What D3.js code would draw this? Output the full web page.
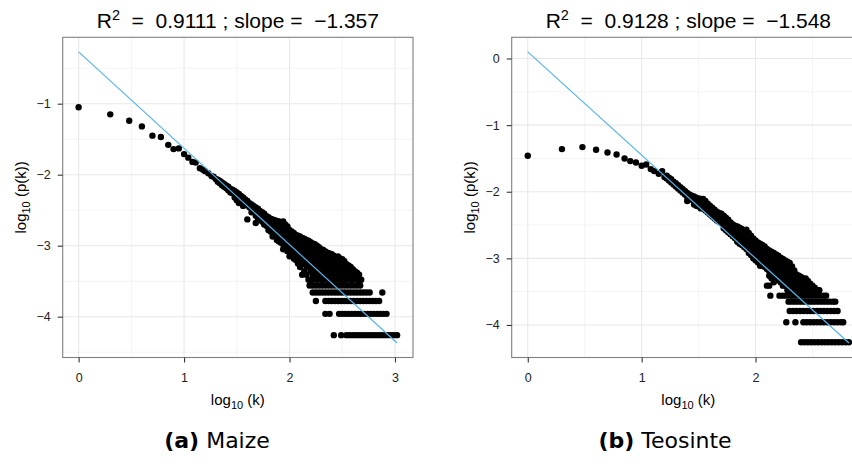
<!DOCTYPE html>
<html>
<head>
<meta charset="utf-8">
<script src="https://cdn.jsdelivr.net/npm/d3@7"></script>
<style>
body { margin: 0; background: #fff; }
svg { display: block; font-family: "Liberation Sans", Arial, sans-serif; }
</style>
</head>
<body>
<div id="chart"></div>
<script>
// log10(k), log10(p(k))
const maizeEarly = [[0.00,-1.05],[0.30,-1.15],[0.48,-1.24],[0.60,-1.32],[0.70,-1.45],[0.78,-1.47],[0.85,-1.58],[0.90,-1.64],[0.95,-1.63],[1.00,-1.71],[1.04,-1.76],[1.08,-1.82],[1.11,-1.83],[1.15,-1.91],[1.18,-1.93],[1.20,-1.95],[1.23,-1.98],[1.26,-2.02],[1.28,-2.03],[1.30,-2.06]];

// dense part: [log10(k), [log10(p) values at that k]]
const maizeCols = [
  [1.32,[-2.07,-2.10]],[1.34,[-2.09,-2.12]],[1.36,[-2.11,-2.15]],[1.38,[-2.13,-2.17]],[1.40,[-2.15,-2.19]],
  [1.42,[-2.17,-2.22]],[1.44,[-2.20,-2.25]],[1.46,[-2.21,-2.26]],[1.48,[-2.23,-2.28,-2.32]],[1.50,[-2.25,-2.30,-2.36]],
  [1.52,[-2.27,-2.33,-2.40]],[1.54,[-2.30,-2.35]],[1.56,[-2.32,-2.38,-2.44]],[1.58,[-2.35,-2.41]],[1.60,[-2.37,-2.43,-2.63]],
  [1.62,[-2.40,-2.46]],[1.64,[-2.42,-2.48,-2.53]],[1.66,[-2.44,-2.50]],[1.68,[-2.46,-2.52,-2.58,-2.68]],[1.70,[-2.48,-2.55,-2.61]],
  [1.72,[-2.51,-2.57,-2.63]],[1.74,[-2.53,-2.60,-2.66]],[1.76,[-2.55,-2.62,-2.70]],[1.78,[-2.58,-2.65,-2.72]],
  [1.80,[-2.60,-2.66,-2.72,-2.78]],[1.82,[-2.62,-2.68,-2.74,-2.80]],[1.84,[-2.63,-2.69,-2.75,-2.82,-2.87]],[1.86,[-2.64,-2.70,-2.76,-2.84]],
  [1.88,[-2.65,-2.71,-2.78,-2.86,-2.92]],[1.90,[-2.66,-2.72,-2.79,-2.86,-2.94]],[1.92,[-2.67,-2.74,-2.81,-2.88,-2.96]],
  [1.94,[-2.66,-2.75,-2.82,-2.90,-2.98,-3.05]],[1.96,[-2.70,-2.77,-2.84,-2.92,-3.00]],[1.98,[-2.73,-2.79,-2.86,-2.93,-3.02,-3.08]],
  [2.00,[-2.78,-2.84,-2.90,-2.97,-3.04,-3.15]],[2.02,[-2.80,-2.86,-2.92,-2.99,-3.06,-3.12]],[2.04,[-2.82,-2.88,-2.94,-3.01,-3.08,-3.18]],
  [2.06,[-2.85,-2.91,-2.97,-3.03,-3.10,-3.20]],[2.08,[-2.86,-2.92,-2.98,-3.05,-3.12,-3.25]],[2.10,[-2.87,-2.93,-3.00,-3.07,-3.14,-3.21,-3.30]],
  [2.12,[-2.89,-2.95,-3.02,-3.09,-3.16,-3.23,-3.41]],[2.14,[-2.90,-2.97,-3.04,-3.11,-3.18,-3.26,-3.36]],[2.16,[-2.92,-2.99,-3.06,-3.13,-3.20,-3.28,-3.41]],
  [2.18,[-2.93,-3.00,-3.07,-3.14,-3.22,-3.30,-3.48]],[2.20,[-2.95,-3.02,-3.09,-3.16,-3.23,-3.30,-3.36,-3.48]],[2.22,[-2.97,-3.04,-3.11,-3.18,-3.25,-3.32,-3.41,-3.48]],
  [2.24,[-2.98,-3.05,-3.12,-3.19,-3.26,-3.34,-3.41]],[2.26,[-3.00,-3.07,-3.14,-3.21,-3.28,-3.36,-3.48]],[2.28,[-3.02,-3.09,-3.16,-3.23,-3.30,-3.36,-3.41]],
  [2.30,[-3.05,-3.11,-3.18,-3.26,-3.30,-3.36,-3.48]],[2.32,[-3.06,-3.12,-3.19,-3.26,-3.36,-3.41,-3.48]],[2.34,[-3.08,-3.15,-3.22,-3.30,-3.36,-3.41]],
  [2.36,[-3.10,-3.16,-3.22,-3.30,-3.36,-3.48]],[2.38,[-3.11,-3.18,-3.26,-3.30,-3.41,-3.48]],[2.40,[-3.12,-3.19,-3.26,-3.36,-3.41]],
  [2.42,[-3.14,-3.22,-3.30,-3.36,-3.48]],[2.44,[-3.17,-3.22,-3.30,-3.41,-3.48]],[2.46,[-3.15,-3.22,-3.26,-3.36,-3.41]],
  [2.48,[-3.18,-3.26,-3.30,-3.36,-3.48]],[2.50,[-3.19,-3.26,-3.36,-3.41,-3.48]],[2.52,[-3.22,-3.30,-3.36,-3.48]],
  [2.54,[-3.26,-3.30,-3.41,-3.48]],[2.56,[-3.28,-3.36,-3.41]],[2.58,[-3.30,-3.36,-3.48]],[2.60,[-3.33,-3.41,-3.48]],
  [2.62,[-3.36,-3.41]],[2.64,[-3.38,-3.48]],[2.66,[-3.41,-3.48]],[2.68,[-3.48]]
];

// tail: counts of 5,4,3,2,1 nodes give flat rows -> [log10(p), [log10(k) values]]
const maizeBands = [
  [-3.56,[2.19,2.22,2.25,2.28,2.31,2.34,2.37,2.40,2.43,2.46,2.49,2.52,2.55,2.58,2.61,2.64,2.67]],
  [-3.66,[2.22,2.25,2.28,2.31,2.34,2.37,2.40,2.43,2.46,2.49,2.52,2.55,2.58,2.61,2.64,2.67,2.70,2.73,2.76,2.88]],
  [-3.78,[2.25,2.34,2.37,2.40,2.43,2.46,2.49,2.52,2.55,2.58,2.61,2.64,2.67,2.70,2.73,2.76,2.79,2.82,2.85]],
  [-3.96,[2.34,2.38,2.47,2.50,2.53,2.56,2.59,2.62,2.65,2.68,2.71,2.74,2.77,2.80,2.83,2.86,2.89,2.92]],
  [-4.26,[2.42,2.49,2.54,2.57,2.60,2.63,2.66,2.69,2.72,2.75,2.78,2.81,2.84,2.87,2.90,2.93,2.96,2.99,3.02]]
];

const maizeFitLine = [[0, -0.27], [3.02, -4.37]];
const maizeXTicks = [0, 1, 2, 3];
const maizeYTicks = [-1, -2, -3, -4];
const maizeR2 = "0.9111";
const maizeSlope = "\u22121.357";

const teoEarly = [[0.00,-1.46],[0.30,-1.36],[0.48,-1.33],[0.60,-1.37],[0.70,-1.41],[0.78,-1.44],[0.85,-1.50],[0.90,-1.54],[0.95,-1.56],[1.00,-1.61],[1.04,-1.59],[1.08,-1.66],[1.11,-1.69],[1.15,-1.73],[1.18,-1.69],[1.20,-1.78]];

const teoCols = [
  [1.22,[-1.76,-1.80]],[1.24,[-1.79,-1.83]],[1.26,[-1.81,-1.86]],[1.28,[-1.85,-1.89]],[1.30,[-1.87,-1.92]],
  [1.32,[-1.90,-1.95]],[1.34,[-1.93,-1.98]],[1.36,[-1.96,-2.01]],[1.38,[-1.99,-2.04]],[1.40,[-2.02,-2.08,-2.14]],
  [1.42,[-2.04,-2.10]],[1.44,[-2.06,-2.12]],[1.46,[-2.07,-2.13,-2.19]],[1.48,[-2.09,-2.15,-2.21]],[1.50,[-2.10,-2.16,-2.22]],
  [1.52,[-2.11,-2.18,-2.25]],[1.54,[-2.11,-2.18,-2.25]],[1.56,[-2.14,-2.21,-2.28]],[1.58,[-2.18,-2.24,-2.31]],[1.60,[-2.21,-2.27,-2.34]],
  [1.62,[-2.24,-2.30,-2.37]],[1.64,[-2.27,-2.33,-2.40]],[1.66,[-2.30,-2.36,-2.43]],[1.68,[-2.32,-2.38,-2.45]],[1.70,[-2.33,-2.40,-2.47]],
  [1.72,[-2.36,-2.42,-2.49,-2.55]],[1.74,[-2.39,-2.45,-2.52,-2.58]],[1.76,[-2.42,-2.48,-2.55,-2.61]],[1.78,[-2.46,-2.52,-2.58,-2.64]],
  [1.80,[-2.49,-2.55,-2.61,-2.67]],[1.82,[-2.51,-2.57,-2.63,-2.70]],[1.84,[-2.52,-2.58,-2.64,-2.70,-2.75]],[1.86,[-2.54,-2.60,-2.66,-2.72,-2.78]],
  [1.88,[-2.56,-2.62,-2.68,-2.74,-2.80]],[1.90,[-2.58,-2.64,-2.70,-2.76,-2.83]],[1.92,[-2.57,-2.63,-2.69,-2.75,-2.81,-2.86]],
  [1.94,[-2.62,-2.68,-2.74,-2.80,-2.86,-2.92]],[1.96,[-2.66,-2.72,-2.78,-2.84,-2.90,-2.95]],[1.98,[-2.70,-2.76,-2.82,-2.88,-2.94,-3.00]],
  [2.00,[-2.73,-2.79,-2.85,-2.91,-2.97,-3.03]],[2.02,[-2.76,-2.82,-2.88,-2.94,-3.00,-3.06]],[2.04,[-2.78,-2.84,-2.90,-2.96,-3.02,-3.11]],
  [2.06,[-2.80,-2.86,-2.92,-2.98,-3.04,-3.11]],[2.08,[-2.82,-2.88,-2.94,-3.00,-3.06,-3.13]],[2.10,[-2.86,-2.92,-2.98,-3.04,-3.10,-3.16,-3.41]],
  [2.12,[-2.88,-2.94,-3.00,-3.06,-3.12,-3.19,-3.26,-3.41]],[2.14,[-2.90,-2.96,-3.02,-3.08,-3.14,-3.21,-3.30]],
  [2.16,[-2.92,-2.98,-3.04,-3.10,-3.16,-3.23,-3.30,-3.36]],[2.18,[-2.94,-3.00,-3.06,-3.12,-3.18,-3.25,-3.30]],
  [2.20,[-2.96,-3.02,-3.08,-3.14,-3.20,-3.26,-3.33]],[2.22,[-2.99,-3.05,-3.11,-3.17,-3.23,-3.30,-3.36]],
  [2.24,[-3.01,-3.07,-3.13,-3.19,-3.25,-3.30,-3.36,-3.41]],[2.26,[-3.03,-3.09,-3.15,-3.21,-3.27,-3.36,-3.41]],
  [2.28,[-3.05,-3.11,-3.18,-3.24,-3.30,-3.36,-3.48]],[2.30,[-3.07,-3.13,-3.20,-3.26,-3.30,-3.36,-3.41,-3.48]],
  [2.32,[-3.12,-3.18,-3.24,-3.30,-3.36,-3.41,-3.48]],[2.34,[-3.18,-3.24,-3.30,-3.36,-3.41,-3.48]],[2.36,[-3.24,-3.30,-3.36,-3.41,-3.48]],
  [2.38,[-3.26,-3.30,-3.36,-3.41,-3.48]],[2.40,[-3.28,-3.36,-3.41,-3.48]],[2.42,[-3.30,-3.36,-3.41,-3.48]],[2.44,[-3.30,-3.36,-3.41,-3.48]],
  [2.46,[-3.34,-3.41,-3.48]],[2.48,[-3.38,-3.41,-3.48]],[2.50,[-3.41,-3.48]],[2.52,[-3.44,-3.48]],[2.54,[-3.48]],[2.56,[-3.48]]
];

const teoBands = [
  [-3.56,[2.13,2.21,2.24,2.27,2.30,2.33,2.36,2.39,2.42,2.45,2.48,2.51,2.54,2.57,2.60,2.62]],
  [-3.65,[2.29,2.32,2.35,2.38,2.41,2.44,2.47,2.50,2.53,2.56,2.59,2.62,2.65,2.68,2.70]],
  [-3.79,[2.30,2.33,2.36,2.39,2.42,2.45,2.48,2.51,2.54,2.57,2.60,2.63,2.66,2.69,2.72]],
  [-3.96,[2.27,2.35,2.42,2.45,2.48,2.51,2.54,2.57,2.60,2.63,2.66,2.69,2.72,2.75,2.77]],
  [-4.26,[2.40,2.43,2.46,2.49,2.52,2.55,2.58,2.61,2.64,2.67,2.70,2.73,2.76,2.79,2.82]]
];

const teoFitLine = [[0, 0.10], [2.82, -4.27]];
const teoXTicks = [0, 1, 2];
const teoYTicks = [0, -1, -2, -3, -4];
const teoR2 = "0.9128";
const teoSlope = "\u22121.548";

const W = 852, H = 464;
const svg = d3.select("#chart").append("svg")
    .attr("width", W)
    .attr("height", H);

svg.append("rect").attr("width", W).attr("height", H).attr("fill", "#fff");

function collectPoints(early, cols, bands) {
    let pts = early.slice();
    cols.forEach(c => c[1].forEach(v => pts.push([c[0], v])));
    bands.forEach(b => b[1].forEach(v => pts.push([v, b[0]])));
    return pts;
}

function drawPanel(p) {
    const pts = collectPoints(p.early, p.cols, p.bands);
    const allX = pts.map(d => d[0]).concat(p.fit.map(d => d[0]));
    const allY = pts.map(d => d[1]).concat(p.fit.map(d => d[1]));
    const xe = d3.extent(allX), ye = d3.extent(allY);
    const px = (xe[1] - xe[0]) * 0.05, py = (ye[1] - ye[0]) * 0.05;

    const x = d3.scaleLinear().domain([xe[0] - px, xe[1] + px]).range([p.left, p.right]);
    const y = d3.scaleLinear().domain([ye[0] - py, ye[1] + py]).range([p.bottom, p.top]);

    const g = svg.append("g");

    // minor grid at half steps
    const xd = x.domain(), yd = y.domain();
    const xMinor = p.xTicks.map(v => v + 0.5).concat([p.xTicks[0] - 0.5]).filter(v => v > xd[0] && v < xd[1]);
    const yMinor = p.yTicks.map(v => v - 0.5).concat([p.yTicks[0] + 0.5]).filter(v => v > yd[0] && v < yd[1]);

    g.selectAll(".xminor").data(xMinor).enter().append("line")
        .attr("x1", d => x(d)).attr("x2", d => x(d))
        .attr("y1", p.top).attr("y2", p.bottom)
        .attr("stroke", "#f4f4f4").attr("stroke-width", 1);
    g.selectAll(".yminor").data(yMinor).enter().append("line")
        .attr("y1", d => y(d)).attr("y2", d => y(d))
        .attr("x1", p.left).attr("x2", p.right)
        .attr("stroke", "#f4f4f4").attr("stroke-width", 1);
    g.selectAll(".xmajor").data(p.xTicks).enter().append("line")
        .attr("x1", d => x(d)).attr("x2", d => x(d))
        .attr("y1", p.top).attr("y2", p.bottom)
        .attr("stroke", "#e8e8e8").attr("stroke-width", 1.1);
    g.selectAll(".ymajor").data(p.yTicks).enter().append("line")
        .attr("y1", d => y(d)).attr("y2", d => y(d))
        .attr("x1", p.left).attr("x2", p.right)
        .attr("stroke", "#e8e8e8").attr("stroke-width", 1.1);

    // points
    g.selectAll(".pt").data(pts).enter().append("circle")
        .attr("cx", d => x(d[0]))
        .attr("cy", d => y(d[1]))
        .attr("r", 3.2)
        .attr("fill", "#000");

    // fitted line
    g.append("path")
        .datum(p.fit)
        .attr("fill", "none")
        .attr("stroke", "#56B4E9")
        .attr("stroke-width", 1.2)
        .attr("d", d3.line().x(d => x(d[0])).y(d => y(d[1])));

    // panel border
    g.append("rect")
        .attr("x", p.left).attr("y", p.top)
        .attr("width", p.right - p.left).attr("height", p.bottom - p.top)
        .attr("fill", "none").attr("stroke", "#7f7f7f").attr("stroke-width", 1.1);

    // axes
    const fmt = d3.format("d");
    const xAxis = g.append("g")
        .attr("transform", "translate(0," + p.bottom + ")")
        .call(d3.axisBottom(x).tickValues(p.xTicks).tickFormat(fmt).tickSize(5).tickPadding(11));
    const yAxis = g.append("g")
        .attr("transform", "translate(" + p.left + ",0)")
        .call(d3.axisLeft(y).tickValues(p.yTicks).tickFormat(fmt).tickSize(5).tickPadding(7));
    [xAxis, yAxis].forEach(a => {
        a.select(".domain").remove();
        a.selectAll("line").attr("stroke", "#333").attr("stroke-width", 1.1);
        a.selectAll("text").attr("fill", "#222")
            .style("font-family", "'Liberation Sans', Arial, sans-serif")
            .style("font-size", "12.5px");
    });

    // title
    const cx = (p.left + p.right) / 2;
    const t = g.append("text")
        .attr("x", cx).attr("y", 28)
        .attr("text-anchor", "middle")
        .style("font-size", "21px")
        .attr("fill", "#000");
    t.append("tspan").text("R");
    t.append("tspan").attr("dy", -8).style("font-size", "14.5px").text("2");
    t.append("tspan").attr("dy", 8).text("\u00a0 =\u00a0 " + p.r2 + " ; slope =\u00a0 " + p.slope);

    // x axis title
    const xt = g.append("text")
        .attr("x", (p.left + p.right) / 2).attr("y", 405)
        .attr("text-anchor", "middle")
        .style("font-size", "15px");
    xt.append("tspan").text("log");
    xt.append("tspan").attr("dy", 4).style("font-size", "11px").text("10");
    xt.append("tspan").attr("dy", -4).text(" (k)");

    // y axis title
    const yt = g.append("text")
        .attr("transform", "translate(" + (p.left - 37) + "," + ((p.top + p.bottom) / 2) + ") rotate(-90)")
        .attr("text-anchor", "middle")
        .style("font-size", "15px");
    yt.append("tspan").text("log");
    yt.append("tspan").attr("dy", 4).style("font-size", "11px").text("10");
    yt.append("tspan").attr("dy", -4).text(" (p(k))");

    // subfigure caption
    const cap = svg.append("text")
        .attr("x", p.capX).attr("y", 448)
        .attr("text-anchor", "middle")
        .style("font-family", "'DejaVu Sans', sans-serif")
        .style("font-size", "22px");
    cap.append("tspan").style("font-weight", "bold").text(p.capTag);
    cap.append("tspan").text(" " + p.capName);
}

drawPanel({
    early: maizeEarly, cols: maizeCols, bands: maizeBands, fit: maizeFitLine,
    xTicks: maizeXTicks, yTicks: maizeYTicks, r2: maizeR2, slope: maizeSlope,
    left: 62.7, right: 413, top: 37.3, bottom: 357.5,
    capX: 217, capTag: "(a)", capName: "Maize"
});

drawPanel({
    early: teoEarly, cols: teoCols, bands: teoBands, fit: teoFitLine,
    xTicks: teoXTicks, yTicks: teoYTicks, r2: teoR2, slope: teoSlope,
    left: 511.7, right: 865, top: 37.3, bottom: 357.5,
    capX: 665, capTag: "(b)", capName: "Teosinte"
});
</script>
</body>
</html>
